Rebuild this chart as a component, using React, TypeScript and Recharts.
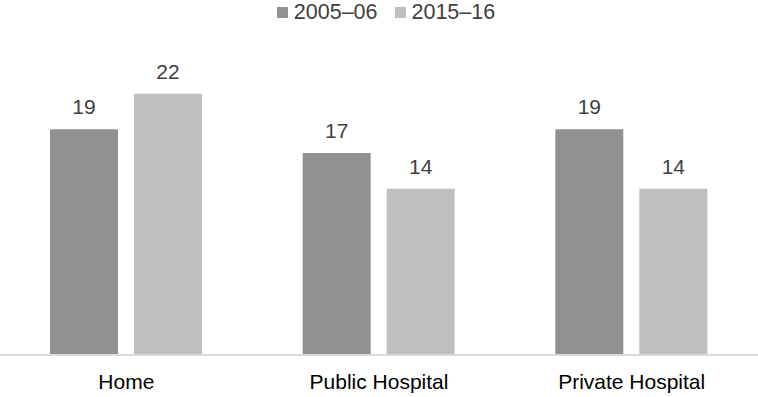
import React from 'react';
import { BarChart, Bar, XAxis, YAxis, Legend, LabelList } from 'recharts';

const categories = ['Home', 'Public Hospital', 'Private Hospital'];
const series2005 = [19, 17, 19];
const series2015 = [22, 14, 14];
const seriesNames = ['2005–06', '2015–16'];
const seriesColors = ['#919191', '#bfbfbf'];

const data = categories.map((c, i) => ({ name: c, a: series2005[i], b: series2015[i] }));

const FONT = 'Arial, "Liberation Sans", Helvetica, sans-serif';

const LegendContent = () => (
  <div style={{ display: 'flex', justifyContent: 'center', alignItems: 'center', height: 24, fontFamily: FONT, fontSize: 21.5, color: '#404040', paddingLeft: 14 }}>
    {seriesNames.map((n, i) => (
      <div key={n} style={{ display: 'flex', alignItems: 'center', marginLeft: i === 0 ? 0 : 17 }}>
        <span style={{ display: 'inline-block', width: 11, height: 11, background: seriesColors[i], marginRight: 6 }} />
        <span>{n}</span>
      </div>
    ))}
  </div>
);

export default function App() {
  return (
    <div style={{ position: 'absolute', left: 0, top: 0, width: 758, height: 397, background: '#fff' }}>
      <BarChart width={758} height={397} data={data} margin={{ top: 34, right: 0, bottom: 0, left: 0 }} barCategoryGap={50} barGap={16}>
        <Legend verticalAlign="top" align="center" content={<LegendContent />} wrapperStyle={{ top: 0, left: 0, width: 758 }} />
        <XAxis dataKey="name" axisLine={{ stroke: '#d9d9d9', strokeWidth: 2 }} tickLine={false} height={42} tickMargin={13}
          tick={{ fill: '#000000', fontSize: 21, fontFamily: FONT }} interval={0} />
        <YAxis hide domain={[0, 25]} />
        <Bar dataKey="a" name={seriesNames[0]} fill={seriesColors[0]} isAnimationActive={false}>
          <LabelList dataKey="a" position="top" offset={15} fill="#404040" fontSize={21} fontFamily={FONT} />
        </Bar>
        <Bar dataKey="b" name={seriesNames[1]} fill={seriesColors[1]} isAnimationActive={false}>
          <LabelList dataKey="b" position="top" offset={15} fill="#404040" fontSize={21} fontFamily={FONT} />
        </Bar>
      </BarChart>
    </div>
  );
}
